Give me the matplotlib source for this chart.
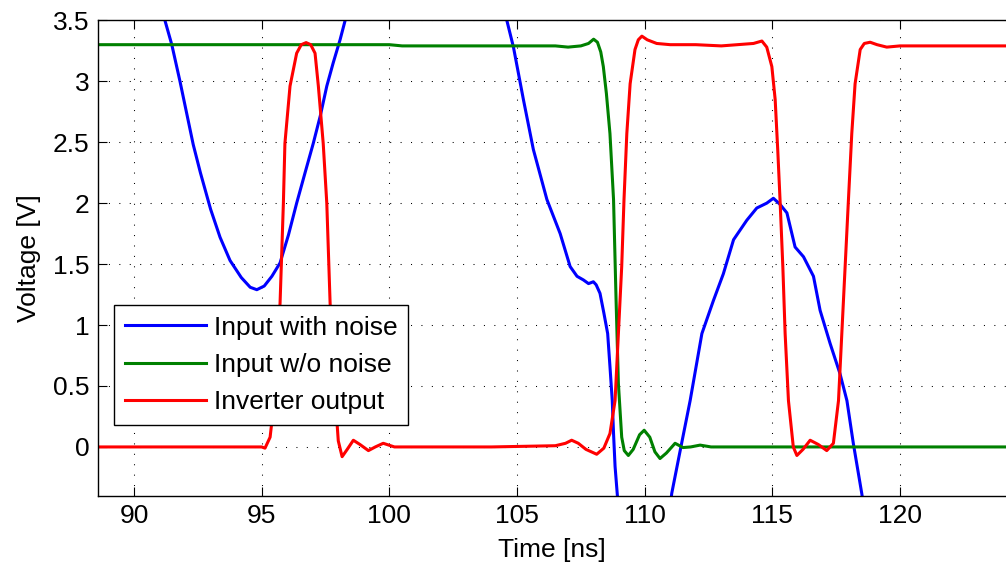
import matplotlib
matplotlib.use("Agg")
import matplotlib.pyplot as plt
from matplotlib.ticker import FuncFormatter

plt.rcParams['font.family'] = ['Liberation Sans', 'DejaVu Sans']

# ---------------- data ----------------
blue_t = [88.6, 89.5, 90.5, 91.21, 91.48, 91.8, 92.32, 92.6, 93.0, 93.37, 93.76,
          94.2, 94.55, 94.81, 95.1, 95.4, 95.72, 96.05, 96.37, 96.7, 97.02, 97.3,
          97.55, 97.8, 98.07, 98.27, 99.0, 100.5, 102.0, 103.5, 104.6, 104.86,
          105.25, 105.64, 106.17, 106.69, 107.08, 107.35, 107.6, 107.8, 107.99,
          108.1, 108.25, 108.4, 108.55, 108.64, 108.73, 108.78, 108.84, 108.95,
          109.2, 110.0, 110.7, 111.06, 111.39, 111.78, 112.24, 112.69, 113.08,
          113.48, 114.0, 114.39, 114.78, 115.04, 115.3, 115.57, 115.89, 116.22,
          116.61, 116.87, 117.26, 117.65, 117.92, 118.17, 118.5, 118.8]
blue_v = [6.0, 5.1, 4.2, 3.5, 3.3, 3.0, 2.48, 2.25, 1.95, 1.72, 1.53,
          1.39, 1.31, 1.29, 1.32, 1.40, 1.51, 1.74, 2.0, 2.25, 2.49, 2.72,
          2.96, 3.15, 3.34, 3.5, 4.1, 4.8, 4.9, 4.3, 3.5, 3.28,
          2.85, 2.44, 2.03, 1.75, 1.48, 1.40, 1.37, 1.34, 1.355,
          1.33, 1.26, 1.10, 0.93, 0.66, 0.38, 0.11, -0.16, -0.45,
          -1.2, -2.0, -1.0, -0.38, -0.03, 0.38, 0.93, 1.20, 1.42,
          1.70, 1.86, 1.96, 2.0, 2.04, 1.99, 1.92, 1.64, 1.56,
          1.40, 1.12, 0.85, 0.60, 0.38, 0.03, -0.38, -0.8]

green_t = [88.6, 100.0, 100.5, 104.0, 106.5, 107.0, 107.5, 107.8, 108.0, 108.15,
           108.28, 108.38, 108.5, 108.64, 108.78, 108.88, 108.97, 109.1, 109.2,
           109.36, 109.55, 109.8, 109.98, 110.2, 110.4, 110.6, 110.85, 111.19,
           111.5, 111.8, 112.17, 112.6, 113.0, 124.2]
green_v = [3.30, 3.30, 3.29, 3.29, 3.29, 3.28, 3.29, 3.31, 3.345, 3.32,
           3.24, 3.12, 2.90, 2.57, 2.03, 1.20, 0.52, 0.08, -0.03,
           -0.07, -0.02, 0.10, 0.137, 0.08, -0.04, -0.095, -0.05, 0.03,
           -0.005, 0.0, 0.015, 0.0, 0.0, 0.0]

red_t = [88.6, 91.0, 93.0, 95.0, 95.13, 95.33, 95.45, 95.6, 95.72, 95.85, 95.91,
         96.11, 96.37, 96.55, 96.74, 96.92, 97.09, 97.22, 97.41, 97.55, 97.68,
         97.85, 98.0, 98.15, 98.35, 98.59, 98.85, 99.18, 99.45, 99.76, 100.2,
         101.0, 104.0, 106.5, 106.9, 107.14, 107.4, 107.7, 108.12, 108.4, 108.64,
         108.84, 108.97, 109.1, 109.19, 109.3, 109.43, 109.62, 109.75, 109.89,
         110.1, 110.47, 111.0, 112.0, 113.0, 114.26, 114.59, 114.78, 114.98,
         115.11, 115.21, 115.3, 115.41, 115.5, 115.63, 115.82, 115.96, 116.2,
         116.48, 116.8, 117.13, 117.39, 117.59, 117.72, 117.85, 117.98, 118.11,
         118.24, 118.44, 118.6, 118.83, 119.1, 119.48, 120.0, 121.0, 122.0, 124.2]
red_v = [0.0, 0.0, 0.0, 0.0, -0.01, 0.08, 0.3, 0.75, 1.18, 2.0, 2.49,
         2.96, 3.23, 3.30, 3.317, 3.30, 3.23, 2.96, 2.49, 2.0, 1.18,
         0.5, 0.05, -0.08, -0.02, 0.055, 0.02, -0.03, 0.0, 0.03, 0.0,
         0.0, 0.0, 0.01, 0.03, 0.055, 0.03, -0.02, -0.06, -0.01, 0.11,
         0.38, 0.93, 1.48, 2.03, 2.57, 2.98, 3.26, 3.34, 3.37,
         3.34, 3.31, 3.30, 3.30, 3.29, 3.31, 3.33, 3.28, 3.12,
         2.85, 2.44, 2.03, 1.48, 0.93, 0.38, 0.0, -0.07, -0.02,
         0.055, 0.02, -0.03, 0.03, 0.38, 0.93, 1.48, 2.03, 2.57,
         2.98, 3.26, 3.31, 3.32, 3.30, 3.28, 3.29, 3.29, 3.29, 3.29]

labels = ["Input with noise", "Input w/o noise", "Inverter output"]
x_ticks = [90, 95, 100, 105, 110, 115, 120]
y_ticks = [0, 0.5, 1, 1.5, 2, 2.5, 3, 3.5]

# ---------------- figure ----------------
W, H = 1006, 566
fig = plt.figure(figsize=(W / 100, H / 100), dpi=100)
ax = fig.add_axes([98 / W, 1 - 495.7 / H, (W - 98) / W, (495.7 - 20.3) / H])

lw = 2.2
ax.plot(blue_t, blue_v, color=(0, 0, 1), lw=lw, label=labels[0])
ax.plot(green_t, green_v, color=(0, 0.5, 0), lw=lw, label=labels[1])
ax.plot(red_t, red_v, color=(1, 0, 0), lw=lw, label=labels[2])

ax.set_xlim(88.59, 124.15)
ax.set_ylim(-0.4, 3.5)
ax.set_xticks(x_ticks)
ax.set_yticks(y_ticks)
ax.yaxis.set_major_formatter(FuncFormatter(lambda v, p: "%g" % v))

fs = 19
ax.tick_params(direction='in', length=6.5, width=0.8, labelsize=fs,
               top=True, right=False, colors='black')
ax.tick_params(axis='x', pad=6)
ax.tick_params(axis='y', pad=6)
for s in ['left', 'bottom', 'top']:
    ax.spines[s].set_linewidth(1.0)
    ax.spines[s].set_color('black')
ax.spines['right'].set_visible(False)

ax.grid(True, color='black', linestyle=(0, (1, 9)), linewidth=0.75)

ax.set_xlabel("Time [ns]", fontsize=fs, labelpad=7)
ax.set_ylabel("Voltage [V]", fontsize=fs, labelpad=9)

leg = ax.legend(loc='upper left', bbox_to_anchor=(114 / W, 1 - 305 / H),
                bbox_transform=fig.transFigure, borderaxespad=0,
                fontsize=fs, frameon=True, fancybox=False, framealpha=1,
                edgecolor='black', handlelength=3.1, handletextpad=0.3,
                borderpad=0.4, labelspacing=0.5)
leg.get_frame().set_linewidth(1.0)

fig.savefig("out.png", dpi=100)
